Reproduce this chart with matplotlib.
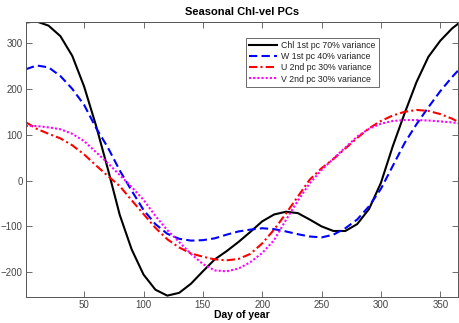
import matplotlib
matplotlib.use("Agg")
import matplotlib.pyplot as plt

# day of year grid used for all four PCs
days = [1, 10, 20, 30, 40, 50, 60, 70, 80, 90, 100, 110, 120, 130, 140, 150,
        160, 170, 180, 190, 200, 210, 220, 230, 240, 250, 260, 270, 280, 290,
        300, 310, 320, 330, 340, 350, 360, 365]

chl_pc1 = [345, 347, 338, 315, 272, 205, 120, 25, -75, -150, -205, -238, -251,
           -245, -225, -198, -172, -154, -134, -112, -89, -74, -68, -71, -85,
           -100, -110, -110, -95, -62, -5, 75, 147, 215, 270, 305, 332, 342]
w_pc1 = [243, 251, 247, 228, 200, 165, 115, 72, 22, -22, -64, -95, -116, -127,
         -131, -130, -126, -118, -111, -107, -104, -106, -111, -117, -122, -124,
         -118, -104, -85, -56, -18, 32, 82, 123, 160, 195, 226, 240]
u_pc2 = [127, 113, 102, 92, 77, 57, 33, 10, -12, -43, -73, -103, -128, -146,
         -159, -166, -172, -174, -171, -160, -137, -107, -72, -35, 2, 27, 47,
         70, 93, 114, 130, 142, 150, 154, 152, 145, 135, 128]
v_pc2 = [119, 119, 116, 112, 102, 86, 62, 38, 12, -14, -42, -77, -108, -134,
         -160, -182, -196, -198, -192, -178, -158, -130, -86, -44, -6, 23, 48,
         72, 96, 113, 124, 130, 132, 132, 131, 129, 127, 125]

labels = ["Chl 1st pc 70% variance", "W 1st pc 40% variance",
          "U 2nd pc 30% variance", "V 2nd pc 30% variance"]

plt.rcParams['font.family'] = ['Liberation Sans', 'DejaVu Sans']

fig = plt.figure(figsize=(4.59, 3.23), dpi=100)
ax = fig.add_axes([0.0566, 0.0805, 0.9414, 0.8515])

ax.plot(days, chl_pc1, color='black', linestyle='-', lw=1.5, label=labels[0])
ax.plot(days, w_pc1, color='blue', linestyle=(0, (4, 2)), lw=1.5, label=labels[1])
ax.plot(days, u_pc2, color='red', linestyle=(0, (4, 1.5, 1, 1.5)), lw=1.5, label=labels[2])
ax.plot(days, v_pc2, color='magenta', linestyle=(0, (1, 1)), lw=1.5, label=labels[3])

ax.set_xlim(1, 365)
ax.set_ylim(-254, 346)
ax.set_xticks([50, 100, 150, 200, 250, 300, 350])
ax.set_yticks([-200, -100, 0, 100, 200, 300])

ax.tick_params(direction='in', length=4, width=0.6, top=True, right=True,
               labelsize=7, colors='#555555', labelcolor='#444444', pad=2.5)
for s in ax.spines.values():
    s.set_color('#555555')
    s.set_linewidth(0.7)

ax.set_title('Seasonal Chl-vel PCs', fontsize=8, fontweight='bold', pad=5)
ax.set_xlabel('Day of year', fontsize=7.5, fontweight='bold', labelpad=0)

leg = ax.legend(loc='upper left', bbox_to_anchor=(0.509, 0.942), fontsize=6.3,
                frameon=True, fancybox=False, handlelength=3.2, borderpad=0.35,
                labelspacing=0.25, handletextpad=0.5, borderaxespad=0)
leg.get_frame().set_edgecolor('#444444')
leg.get_frame().set_linewidth(0.7)
for t in leg.get_texts():
    t.set_color('#222222')

fig.savefig('out.png', dpi=100)
